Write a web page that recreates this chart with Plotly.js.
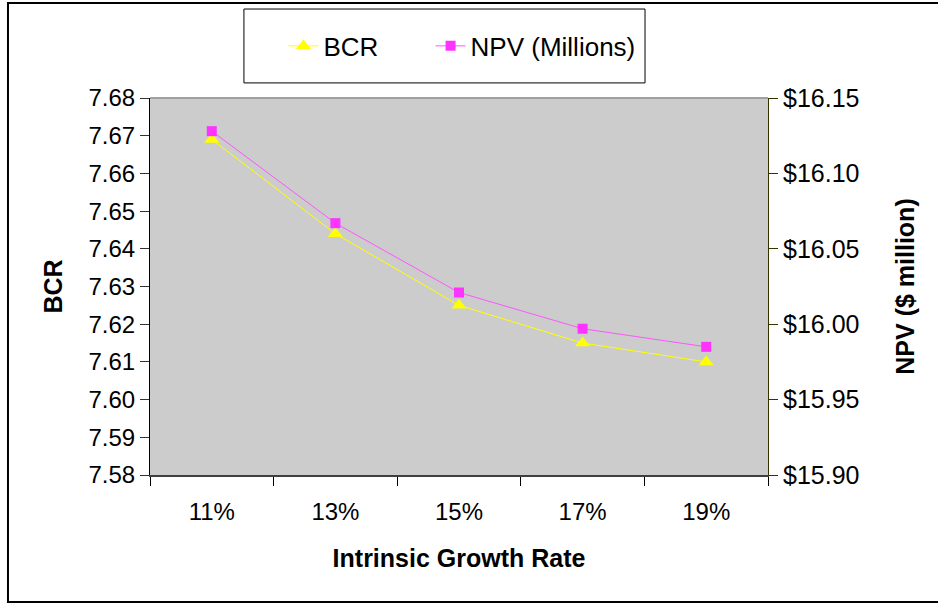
<!DOCTYPE html>
<html>
<head>
<meta charset="utf-8">
<script src="https://cdn.plot.ly/plotly-3.0.1.min.js"></script>
<style>html,body{margin:0;padding:0;background:#fff;}#chart{width:938px;height:603px;}</style>
</head>
<body>
<div id="chart"></div>
<script>
const categories = ["11%", "13%", "15%", "17%", "19%"];
const bcr = [7.669, 7.644, 7.625, 7.615, 7.610];
const npv = [16.128, 16.067, 16.021, 15.997, 15.985];
const bcrTicks = [7.58, 7.59, 7.60, 7.61, 7.62, 7.63, 7.64, 7.65, 7.66, 7.67, 7.68];
const npvTicks = [15.90, 15.95, 16.00, 16.05, 16.10, 16.15];
const npvTickText = npvTicks.map(v => "$" + v.toFixed(2));
const bcrTickText = bcrTicks.map(v => v.toFixed(2));

const FONT = "Liberation Sans, Arial, sans-serif";

const traces = [
  {
    x: categories, y: bcr, name: "BCR", type: "scatter", mode: "lines+markers",
    yaxis: "y", legend: "legend",
    line: {color: "#FFFF00", width: 1},
    marker: {symbol: "triangle-up", size: 13, color: "#FFFF00"}
  },
  {
    x: categories, y: npv, name: "NPV (Millions)", type: "scatter", mode: "lines+markers",
    yaxis: "y2", legend: "legend2",
    line: {color: "#FF55FF", width: 1},
    marker: {symbol: "square", size: 10, color: "#FF33FF"}
  }
];

const legendCommon = {
  orientation: "h", y: 1.138, xanchor: "left", yanchor: "middle",
  bgcolor: "rgba(0,0,0,0)", borderwidth: 0,
  font: {family: FONT, size: 26, color: "#000"}
};

const layout = {
  width: 938, height: 603,
  margin: {l: 150, r: 170, t: 98, b: 128},
  paper_bgcolor: "#FFFFFF",
  plot_bgcolor: "#CCCCCC",
  font: {family: FONT, size: 24, color: "#000"},
  showlegend: true,
  legend: Object.assign({}, legendCommon, {x: 0.216}),
  legend2: Object.assign({}, legendCommon, {x: 0.454}),
  xaxis: {
    type: "category", range: [-0.5, 4.5],
    tickson: "boundaries", ticks: "outside", ticklen: 9, tickcolor: "#000",
    showline: true, linecolor: "#404040", linewidth: 2, mirror: false,
    showgrid: false, zeroline: false,
    ticklabelstandoff: 14,
    tickfont: {family: FONT, size: 24},
    title: {text: "<b>Intrinsic Growth Rate</b>", font: {family: FONT, size: 25}, standoff: 26}
  },
  yaxis: {
    range: [7.58, 7.68], tickvals: bcrTicks, ticktext: bcrTickText,
    ticks: "outside", ticklen: 9, tickcolor: "#333",
    showline: true, linecolor: "#000", linewidth: 1,
    showgrid: false, zeroline: false,
    tickfont: {family: FONT, size: 24},
    title: {text: "<b>BCR</b>", font: {family: FONT, size: 25}, standoff: 18}
  },
  yaxis2: {
    range: [15.90, 16.15], tickvals: npvTicks, ticktext: npvTickText,
    overlaying: "y", side: "right", anchor: "x",
    ticks: "outside", ticklen: 9, tickcolor: "#333300",
    showline: true, linecolor: "#333300", linewidth: 1,
    showgrid: false, zeroline: false,
    tickfont: {family: FONT, size: 25},
    title: {text: "<b>NPV ($ million)</b>", font: {family: FONT, size: 25}, standoff: 38}
  },
  yaxis3: {
    range: [7.58, 7.68], tickvals: bcrTicks, showticklabels: false,
    overlaying: "y", side: "left", anchor: "x",
    ticks: "inside", ticklen: 9, tickcolor: "#333",
    showline: false, showgrid: false, zeroline: false
  },
  yaxis4: {
    range: [15.90, 16.15], tickvals: npvTicks, showticklabels: false,
    overlaying: "y", side: "right", anchor: "x",
    ticks: "inside", ticklen: 9, tickcolor: "#333300",
    showline: false, showgrid: false, zeroline: false
  },
  shapes: [
    {type: "line", xref: "paper", yref: "paper", x0: 0, x1: 1, y0: 1, y1: 1,
     line: {color: "#A0A0A0", width: 2}},
    {type: "rect", xref: "paper", yref: "paper",
     x0: 0.152, x1: 0.801, y0: 1.040, y1: 1.236,
     line: {color: "#000", width: 1}, fillcolor: "rgba(0,0,0,0)"},
    {type: "rect", xref: "paper", yref: "paper",
     x0: -0.2298, x1: 1.45, y0: -0.337, y1: 1.252,
     line: {color: "#000", width: 2}, fillcolor: "rgba(0,0,0,0)"}
  ]
};

Plotly.newPlot("chart", traces, layout, {displayModeBar: false, staticPlot: true});
</script>
</body>
</html>
